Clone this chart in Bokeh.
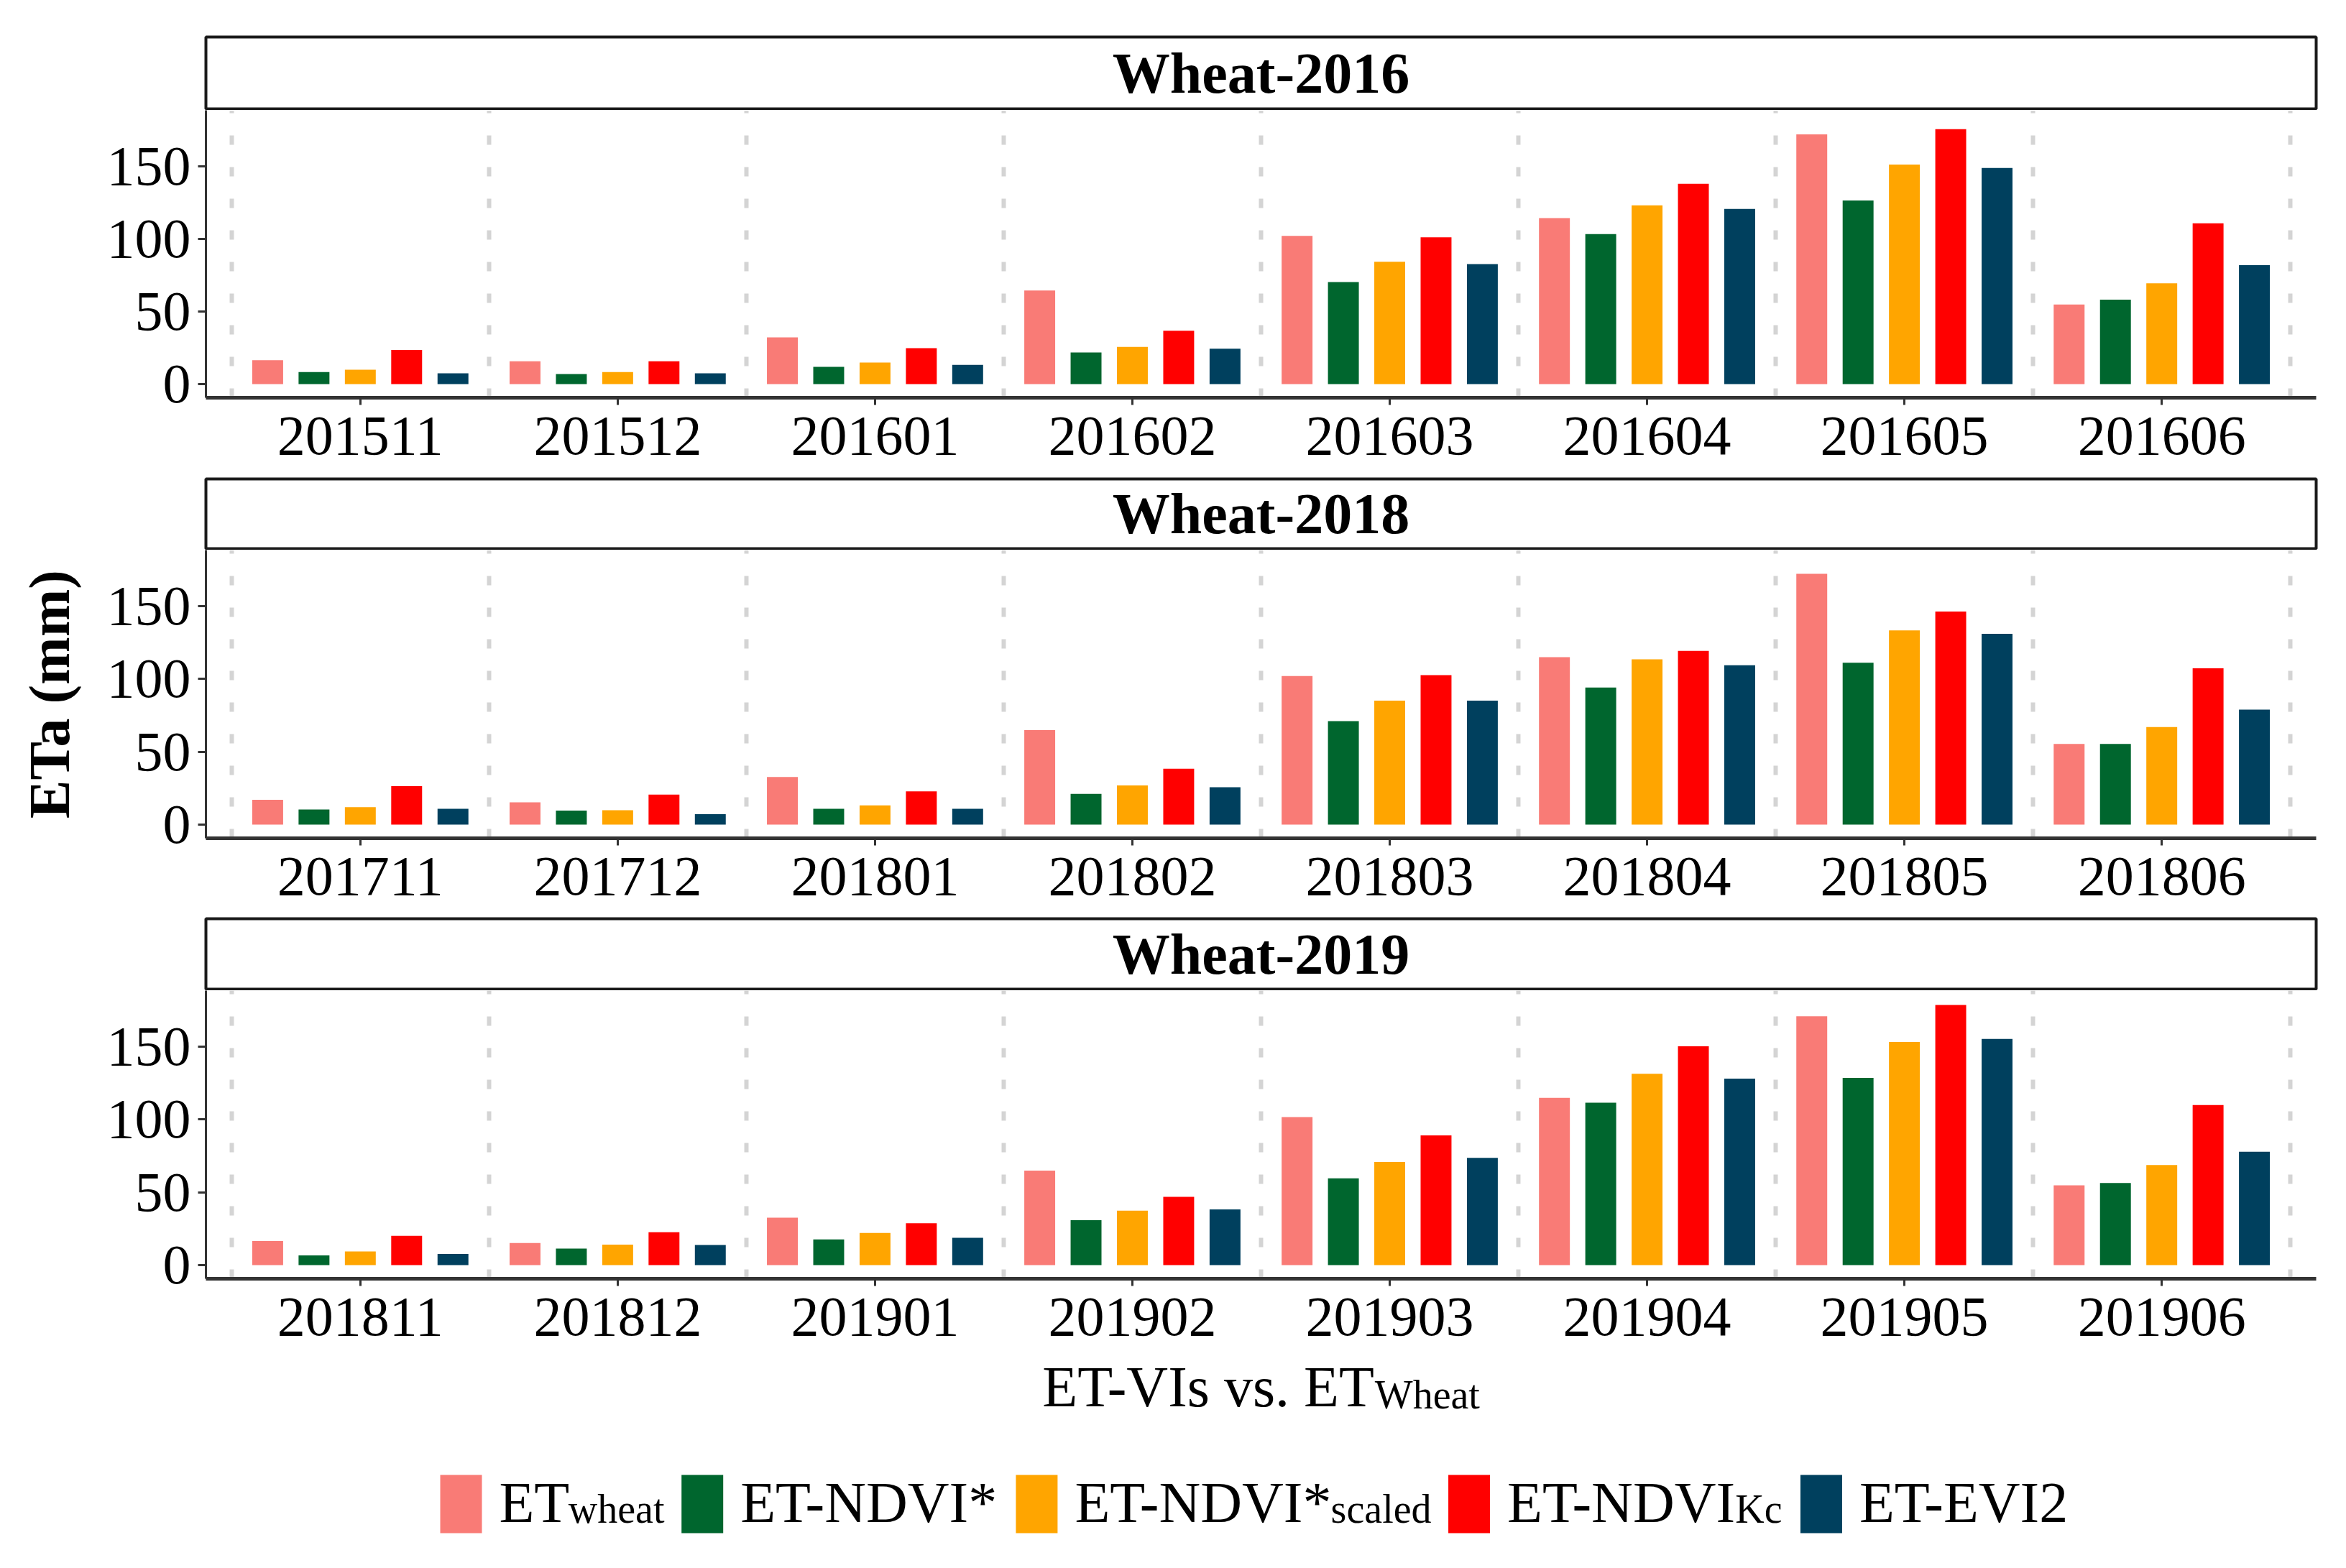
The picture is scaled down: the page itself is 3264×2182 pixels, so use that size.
import numpy as np
from bokeh.plotting import figure
from bokeh.layouts import column
from bokeh.models import Range1d, FixedTicker, ColumnDataSource
from bokeh.core.properties import value
from bokeh.embed import file_html
from bokeh.resources import INLINE

# ---------------- data ----------------
panel_titles = ["Wheat-2016", "Wheat-2018", "Wheat-2019"]
months_2016 = ["201511", "201512", "201601", "201602", "201603", "201604", "201605", "201606"]
months_2018 = ["201711", "201712", "201801", "201802", "201803", "201804", "201805", "201806"]
months_2019 = ["201811", "201812", "201901", "201902", "201903", "201904", "201905", "201906"]

et_wheat_2016 = [16.5, 15.7, 32.2, 64.4, 102.0, 114.3, 171.8, 54.8]
et_ndvi_2016 = [8.3, 6.9, 11.9, 21.8, 70.2, 103.2, 126.4, 58.1]
et_ndvi_scaled_2016 = [9.9, 8.3, 14.9, 25.6, 84.2, 123.0, 151.1, 69.4]
et_ndvi_kc_2016 = [23.5, 15.7, 24.8, 36.7, 101.0, 137.9, 175.4, 110.7]
et_evi2_2016 = [7.4, 7.4, 13.2, 24.4, 82.6, 120.6, 148.7, 81.8]

et_wheat_2018 = [17.0, 15.3, 32.7, 64.9, 102.0, 114.9, 172.1, 55.4]
et_ndvi_2018 = [10.4, 9.6, 10.9, 21.1, 71.0, 94.1, 111.1, 55.4]
et_ndvi_scaled_2018 = [12.0, 9.9, 13.2, 26.9, 85.1, 113.5, 133.3, 67.0]
et_ndvi_kc_2018 = [26.4, 20.6, 22.8, 38.4, 102.6, 119.3, 146.2, 107.3]
et_evi2_2018 = [10.9, 7.1, 10.9, 25.7, 85.1, 109.4, 130.9, 78.9]

et_wheat_2019 = [16.5, 15.2, 32.5, 64.9, 101.6, 114.8, 170.8, 54.7]
et_ndvi_2019 = [6.6, 11.4, 17.6, 30.8, 59.6, 111.5, 128.5, 56.3]
et_ndvi_scaled_2019 = [9.4, 14.0, 22.1, 37.4, 70.8, 131.3, 153.2, 68.7]
et_ndvi_kc_2019 = [20.1, 22.6, 28.7, 46.8, 89.0, 150.2, 178.6, 109.9]
et_evi2_2019 = [7.7, 13.8, 18.8, 38.2, 73.6, 128.0, 155.2, 77.8]

legend_main = ["ET", "ET-NDVI*", "ET-NDVI*", "ET-NDVI", "ET-EVI2"]
legend_sub = ["wheat", "", "scaled", "Kc", ""]
xlabel_main = "ET-VIs vs. ET"
xlabel_sub = "Wheat"
ylabel = "ETa (mm)"
y_ticks = [0, 50, 100, 150]

panels = [
    (months_2016, [et_wheat_2016, et_ndvi_2016, et_ndvi_scaled_2016, et_ndvi_kc_2016, et_evi2_2016]),
    (months_2018, [et_wheat_2018, et_ndvi_2018, et_ndvi_scaled_2018, et_ndvi_kc_2018, et_evi2_2018]),
    (months_2019, [et_wheat_2019, et_ndvi_2019, et_ndvi_scaled_2019, et_ndvi_kc_2019, et_evi2_2019]),
]

# ---------------- style ----------------
colors = ["#F97B76", "#00662E", "#FFA500", "#FF0000", "#00405E"]
FONT = "Liberation Serif"
W = 3248
LEFT = 286
RIGHT = 26
AX = "#333333"

ymax = max(max(v) for _, s in panels for v in s)
ylo, yhi = -0.05 * ymax * 1.05, ymax * 1.055

dodge = 0.18
bar_w = 0.12
offsets = [(k - 2) * dodge for k in range(5)]

strip_heights = [(153, 51), (101, 2), (102, 2)]
plot_heights = [(511, 111), (511, 110), (499, 98)]


def make_strip(title, h, top):
    s = figure(width=W, height=h, x_range=Range1d(0, 1), y_range=Range1d(0, 1),
               x_axis_type=None, y_axis_type=None, output_backend="svg",
               toolbar_location=None, title=None,
               min_border_left=LEFT, min_border_right=RIGHT,
               min_border_top=top, min_border_bottom=2)
    s.outline_line_color = "#1a1a1a"
    s.outline_line_width = 4
    s.background_fill_color = "white"
    s.text(x=[0.5], y=[0.5], text=[title], text_align="center", text_baseline="middle",
           text_font=value(FONT), text_font_style="bold", text_font_size="80px",
           text_color="black")
    return s


def make_plot(months, series, h, bottom, with_ylabel):
    p = figure(width=W, height=h, x_range=Range1d(0.4, len(months) + 0.6),
               y_range=Range1d(ylo, yhi), output_backend="svg",
               toolbar_location=None, title=None,
               min_border_left=LEFT, min_border_right=RIGHT,
               min_border_top=0, min_border_bottom=bottom)
    p.outline_line_color = None
    x = np.arange(1, len(months) + 1)
    for k, vals in enumerate(series):
        src = ColumnDataSource(dict(x=x + offsets[k], top=vals))
        p.vbar(x="x", top="top", bottom=0, width=bar_w, source=src,
               fill_color=colors[k], line_color=None)
    p.ygrid.visible = False
    p.xgrid.ticker = FixedTicker(ticks=[i + 0.5 for i in range(len(months) + 1)])
    p.xgrid.grid_line_color = "#d4d4d4"
    p.xgrid.grid_line_width = 6
    p.xgrid.grid_line_dash = "13 31"

    xa = p.xaxis[0]
    xa.ticker = FixedTicker(ticks=list(range(1, len(months) + 1)))
    xa.major_label_overrides = {i + 1: m for i, m in enumerate(months)}
    xa.axis_line_width = 5
    xa.axis_line_color = AX
    xa.major_tick_in = 0
    xa.major_tick_out = 10
    xa.major_tick_line_width = 3
    xa.major_tick_line_color = AX
    xa.minor_tick_line_color = None
    xa.major_label_standoff = 17
    xa.major_label_text_font = FONT
    xa.major_label_text_font_size = "78px"
    xa.major_label_text_color = "black"

    ya = p.yaxis[0]
    ya.ticker = FixedTicker(ticks=y_ticks)
    ya.axis_line_width = 3
    ya.axis_line_color = AX
    ya.major_tick_in = 0
    ya.major_tick_out = 11
    ya.major_tick_line_width = 3
    ya.major_tick_line_color = AX
    ya.minor_tick_line_color = None
    ya.major_label_standoff = 10
    ya.major_label_text_font = FONT
    ya.major_label_text_font_size = "78px"
    ya.major_label_text_color = "black"
    if with_ylabel:
        ya.axis_label = ylabel
        ya.axis_label_text_font = FONT
        ya.axis_label_text_font_style = "bold"
        ya.axis_label_text_font_size = "80px"
        ya.axis_label_text_color = "black"
        ya.axis_label_standoff = 33
    return p


# Times-compatible advance widths (per em) for layout of the subscripted labels
CW = {"E": .611, "T": .611, "-": .333, "V": .722, "I": .333, "s": .389, " ": .25,
      "v": .5, ".": .25, "N": .722, "D": .722, "*": .5, "2": .5, "W": .944, "h": .5,
      "e": .444, "a": .444, "t": .278, "w": .722, "c": .444, "l": .278, "d": .5, "K": .722}


def tw(s, size):
    return sum(CW.get(ch, 0.5) for ch in s) * size * 0.975


rows = []
for i, (months, series) in enumerate(panels):
    sh, st = strip_heights[i]
    ph, pb = plot_heights[i]
    rows.append(make_strip(panel_titles[i], sh, st))
    rows.append(make_plot(months, series, ph, pb, with_ylabel=(i == 1)))

# bottom area: x-axis title and legend (frame aligned with the panels above;
# data coordinates equal page pixel coordinates)
top_y = sum(f.height for f in rows)
bot_y = 2174
bh = bot_y - top_y
fx0 = LEFT
fx1 = W - RIGHT
b = figure(width=W, height=bh, x_range=Range1d(fx0, fx1), y_range=Range1d(bot_y, top_y),
           x_axis_type=None, y_axis_type=None, output_backend="svg",
           toolbar_location=None, title=None,
           min_border_left=LEFT, min_border_right=RIGHT, min_border_top=0, min_border_bottom=0)
b.outline_line_color = None

MAIN, SUB = 80, 56
frame_center = (fx0 + fx1) / 2
total = tw(xlabel_main, MAIN) + tw(xlabel_sub, SUB)
split = frame_center - total / 2 + tw(xlabel_main, MAIN)
b.text(x=[split], y=[1929], text=[xlabel_main], text_align="right", text_baseline="alphabetic",
       text_font=value(FONT), text_font_size=f"{MAIN}px", text_color="black")
b.text(x=[split + 1], y=[1940], text=[xlabel_sub], text_align="left", text_baseline="alphabetic",
       text_font=value(FONT), text_font_size=f"{SUB}px", text_color="black")

key_w, key_top, key_bot = 58, 2052, 2133
x = 612
kl, kr, mx, mtxt, sx, stxt = [], [], [], [], [], []
for m, s_ in zip(legend_main, legend_sub):
    kl.append(x)
    kr.append(x + key_w)
    tx = x + key_w + 24
    mx.append(tx)
    mtxt.append(m)
    sx.append(tx + tw(m, MAIN) + 1)
    stxt.append(s_)
    x = tx + tw(m, MAIN) + tw(s_, SUB) + 28
b.quad(left=kl, right=kr, top=[key_top] * 5, bottom=[key_bot] * 5, fill_color=colors, line_color=None)
b.text(x=mx, y=[2090] * 5, text=mtxt, text_align="left", text_baseline="alphabetic",
       text_font=value(FONT), text_font_size=f"{MAIN}px", text_color="black")
b.text(x=sx, y=[2099] * 5, text=stxt, text_align="left", text_baseline="alphabetic",
       text_font=value(FONT), text_font_size=f"{SUB}px", text_color="black")
rows.append(b)

layout = column(*rows, spacing=0)
open("out.html", "w").write(file_html(layout, INLINE))
